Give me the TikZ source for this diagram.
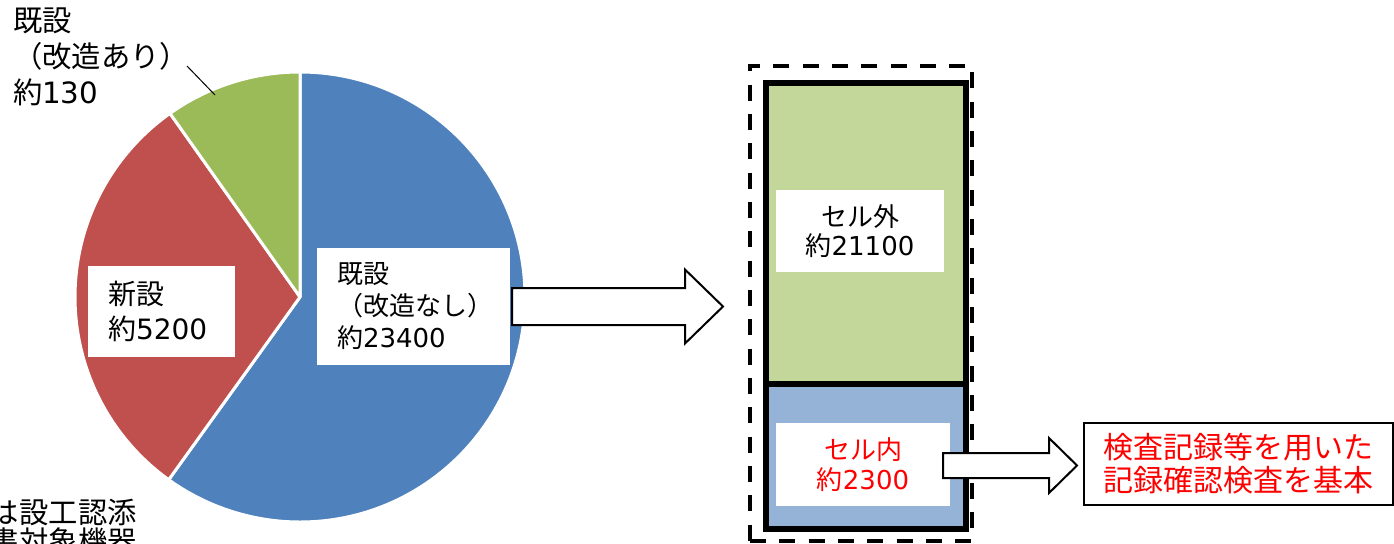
\documentclass[tikz,border=0pt]{standalone}
\usepackage{fontspec}
\setmainfont{Noto Sans CJK JP}
\newfontfamily\numfont{DejaVu Sans}
\usetikzlibrary{calc}
\definecolor{pieblue}{HTML}{4F81BD}
\definecolor{piered}{HTML}{C0504D}
\definecolor{piegreen}{HTML}{9BBB59}
\definecolor{cellgreen}{HTML}{C4D79B}
\definecolor{cellblue}{HTML}{95B3D7}
\definecolor{txtred}{HTML}{FF0000}
\newcommand{\nm}[1]{{\numfont #1}}
\begin{document}
\begin{tikzpicture}[x=0.75pt,y=-0.75pt,
  slice/.style={draw=white,line width=2.25pt,line join=round},
  whitebox/.style={fill=white,draw=none,inner ysep=0pt,outer sep=0pt},
  sect/.style={draw=black,line width=4.5pt,inner sep=0pt,outer sep=0pt,minimum width=150pt},
  blockarrow/.style={fill=white,draw=black,line width=1.5pt,line join=miter},
  plain/.style={inner sep=0pt,outer sep=0pt,align=left}]
\useasboundingbox (0,0) rectangle (1394,543);

% pie
\coordinate (pc) at (300,297);
\filldraw[fill=pieblue,slice] (pc) -- ++(-90:225) arc[start angle=-90,end angle=125.7,radius=225] -- cycle;
\filldraw[fill=piered,slice] (pc) -- ++(125.7:225) arc[start angle=125.7,end angle=234.7,radius=225] -- cycle;
\filldraw[fill=piegreen,slice] (pc) -- ++(234.7:225) arc[start angle=234.7,end angle=270,radius=225] -- cycle;

% labels of the pie
\node[plain,anchor=north west,font=\fontsize{22pt}{27pt}\selectfont] (kaizou) at (13,8) {既設\\（改造あり）\\約\nm{130}};
\coordinate (ls) at (187,66);
\coordinate (le) at (215,95);
\draw[line width=0.75pt] (ls) -- (le);

\node[whitebox,inner xsep=15pt,text width=80.25pt,minimum height=68.25pt,align=left,
  font=\fontsize{21pt}{26.25pt}\selectfont] (shin) at (161.5,311.5) {新設\\約\nm{5200}};
\node[whitebox,inner xsep=15pt,text width=114.75pt,minimum height=87.75pt,align=left,
  font=\fontsize{19.5pt}{24pt}\selectfont] (kisetsu) at (413.5,306.5) {既設\\（改造なし）\\約\nm{23400}};

\node[plain,anchor=north west,font=\fontsize{22pt}{22pt}\selectfont] (note) at (-10,499) {は設工認添\\書対象機器};

% right column
\node[draw=black,line width=3pt,dash pattern=on 12pt off 10pt,inner sep=0pt,
  minimum width=166.5pt,minimum height=356.6pt] (group) at (861,303.25) {};
\node[sect,fill=cellgreen,minimum height=225.75pt] (outside) at (866,233.5) {};
\node[sect,fill=cellblue,minimum height=108.75pt] (inside) at (866,456.5) {};

\node[whitebox,inner xsep=0pt,minimum width=126pt,minimum height=61.5pt,align=center,
  font=\fontsize{19.5pt}{22pt}\selectfont] (outlbl) at (860,231) {セル外\\約\nm{21100}};
\node[whitebox,inner xsep=0pt,minimum width=130.5pt,minimum height=62.25pt,align=center,text=txtred,
  font=\fontsize{19.5pt}{22pt}\selectfont] (inlbl) at (863,464.5) {セル内\\約\nm{2300}};

\node[draw=black,line width=1.5pt,fill=white,inner sep=0pt,minimum width=231.75pt,minimum height=61.5pt,
  align=center,text=txtred,font=\fontsize{22.5pt}{24.75pt}\selectfont] (result) at (1238.5,464) {検査記録等を用いた\\記録確認検査を基本};

% block arrows
\coordinate (a1s) at ($(kisetsu.east)+(2,0)$);
\coordinate (a1t) at (723,306.5);
\draw[blockarrow] ($(a1s)+(0,-18.5)$) -- ($(a1t)+(-38,-18.5)$) -- ($(a1t)+(-38,-37)$) -- (a1t)
  -- ($(a1t)+(-38,37)$) -- ($(a1t)+(-38,18.5)$) -- ($(a1s)+(0,18.5)$) -- cycle;

\coordinate (a2s) at ($(inlbl.east)+(-7,1)$);
\coordinate (a2t) at ($(result.west)+(-6,1.5)$);
\draw[blockarrow] ($(a2s)+(0,-12.5)$) -- ($(a2t)+(-28,-12.5)$) -- ($(a2t)+(-28,-27.5)$) -- (a2t)
  -- ($(a2t)+(-28,27.5)$) -- ($(a2t)+(-28,12.5)$) -- ($(a2s)+(0,12.5)$) -- cycle;
\end{tikzpicture}
\end{document}
